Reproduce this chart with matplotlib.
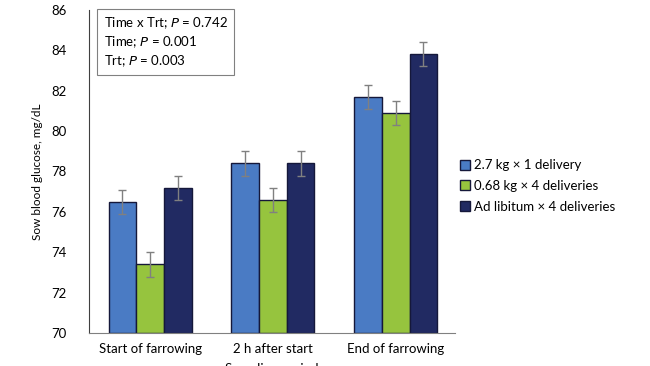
import numpy as np
import matplotlib.pyplot as plt

plt.rcParams['font.family'] = ['Lato', 'DejaVu Sans']

periods = ['Start of farrowing', '2 h after start', 'End of farrowing']
series = ['2.7 kg \u00d7 1 delivery', '0.68 kg \u00d7 4 deliveries', 'Ad libitum \u00d7 4 deliveries']
glucose = [
    [76.5, 78.4, 81.7],
    [73.4, 76.6, 80.9],
    [77.2, 78.4, 83.8],
]
sem = [
    [0.6, 0.6, 0.6],
    [0.6, 0.6, 0.6],
    [0.6, 0.6, 0.6],
]
colors = ['#4a7bc4', '#96c43e', '#212a62']

fig = plt.figure(figsize=(6.5, 3.66), dpi=100)
ax = fig.add_axes([0.137, 0.09, 0.563, 0.883])

x = np.arange(len(periods))
w = 0.225
for i in range(3):
    ax.bar(x + (i - 1) * w, np.array(glucose[i]) - 70, w, bottom=70,
           color=colors[i], edgecolor='#15183a', linewidth=1.0,
           label=series[i], zorder=2)
    ax.errorbar(x + (i - 1) * w, glucose[i], yerr=sem[i], fmt='none',
                ecolor='#808080', elinewidth=1, capsize=3, capthick=1, zorder=3)

ax.set_ylim(70, 86)
ax.set_yticks(np.arange(70, 87, 2))
ax.set_xlim(-0.497, 2.483)
ax.set_xticks(x)
ax.set_xticklabels(periods, fontsize=9.5)
ax.tick_params(axis='y', labelsize=9.5, length=0, pad=16)
ax.tick_params(axis='x', length=0, pad=7)
for s in ['top', 'right']:
    ax.spines[s].set_visible(False)
ax.spines['left'].set_color('#404040')
ax.spines['bottom'].set_color('#808080')
ax.set_ylabel('Sow blood glucose, mg/dL', fontsize=8.5, labelpad=6)
ax.set_xlabel('Sampling period', fontsize=9.5, labelpad=6)

ax.text(0.04, 0.982, 'Time x Trt; $\\it{P}$ = 0.742\nTime; $\\it{P}$ = 0.001\nTrt; $\\it{P}$ = 0.003',
        transform=ax.transAxes, va='top', ha='left', fontsize=9.5, linespacing=1.25,
        bbox=dict(boxstyle='square,pad=0.5', facecolor='white', edgecolor='#808080', linewidth=0.8))

ax.legend(loc='center left', bbox_to_anchor=(0.98, 0.455), frameon=False, fontsize=9.5,
          handlelength=0.8, handleheight=0.8, handletextpad=0.3, labelspacing=0.65)

fig.savefig('out.png', dpi=100)
